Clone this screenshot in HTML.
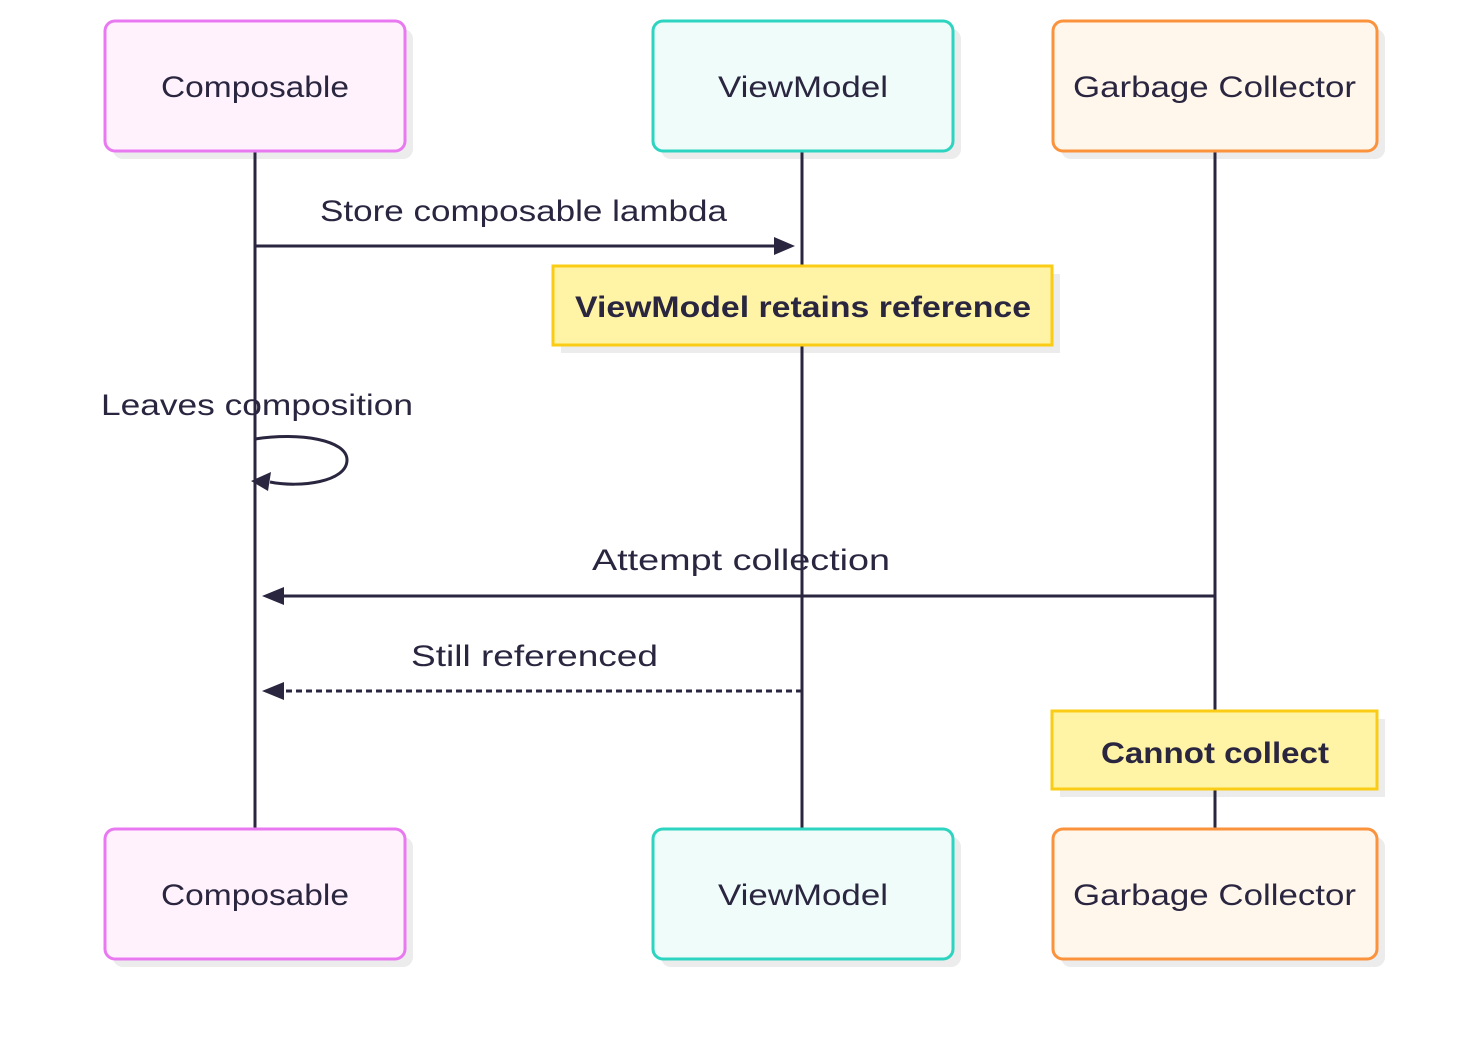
<!DOCTYPE html>
<html><head><meta charset="utf-8"><style>html,body{margin:0;padding:0;background:#fff}svg{display:block}text{font-family:"Liberation Sans",sans-serif;fill:#2a2640;font-size:30px}</style></head><body>
<svg width="1477" height="1042" viewBox="0 0 1477 1042" xmlns="http://www.w3.org/2000/svg">
<g fill="#ececec">
<rect x="113" y="29" width="300" height="130" rx="10"/>
<rect x="661" y="29" width="300" height="130" rx="10"/>
<rect x="1061" y="29" width="324" height="130" rx="10"/>
<rect x="113" y="837" width="300" height="130" rx="10"/>
<rect x="661" y="837" width="300" height="130" rx="10"/>
<rect x="1061" y="837" width="324" height="130" rx="10"/>
<rect x="561" y="274" width="499" height="79"/>
<rect x="1060" y="719" width="325" height="78"/>
</g>
<g stroke="#2a2640" stroke-width="3">
<line x1="255" y1="151" x2="255" y2="829"/>
<line x1="802" y1="151" x2="802" y2="829"/>
<line x1="1215" y1="151" x2="1215" y2="829"/>
</g>
<g stroke-width="3">
<rect x="105" y="21" width="300" height="130" rx="10" fill="#fff2fd" stroke="#e879f0"/>
<rect x="653" y="21" width="300" height="130" rx="10" fill="#effcfa" stroke="#2dd4bf"/>
<rect x="1053" y="21" width="324" height="130" rx="10" fill="#fff6ec" stroke="#fb923c"/>
<rect x="105" y="829" width="300" height="130" rx="10" fill="#fff2fd" stroke="#e879f0"/>
<rect x="653" y="829" width="300" height="130" rx="10" fill="#effcfa" stroke="#2dd4bf"/>
<rect x="1053" y="829" width="324" height="130" rx="10" fill="#fff6ec" stroke="#fb923c"/>
<rect x="553" y="266" width="499" height="79" fill="#fff4a6" stroke="#facc15"/>
<rect x="1052" y="711" width="325" height="78" fill="#fff4a6" stroke="#facc15"/>
</g>
<g fill="none" stroke="#2a2640" stroke-width="3">
<line x1="255" y1="246" x2="780" y2="246"/>
<path d="M255 439 C300 432 347 440 347 460 C347 482 300 488 270 482"/>
<line x1="1215" y1="596" x2="282" y2="596"/>
<line x1="802" y1="691" x2="282" y2="691" stroke-dasharray="6 4"/>
</g>
<g fill="#2a2640">
<polygon points="795,246 774,237 774,255"/>
<polygon points="251,481 271,472 268,491"/>
<polygon points="262,596 284,587 284,605"/>
<polygon points="262,691 284,682 284,700"/>
</g>
<text x="161" y="97" textLength="188" lengthAdjust="spacingAndGlyphs">Composable</text>
<text x="718" y="97" textLength="170" lengthAdjust="spacingAndGlyphs">ViewModel</text>
<text x="1073" y="97" textLength="283" lengthAdjust="spacingAndGlyphs">Garbage Collector</text>
<text x="161" y="905" textLength="188" lengthAdjust="spacingAndGlyphs">Composable</text>
<text x="718" y="905" textLength="170" lengthAdjust="spacingAndGlyphs">ViewModel</text>
<text x="1073" y="905" textLength="283" lengthAdjust="spacingAndGlyphs">Garbage Collector</text>
<text x="320" y="221" textLength="407" lengthAdjust="spacingAndGlyphs">Store composable lambda</text>
<text x="575" y="317" font-weight="bold" textLength="456" lengthAdjust="spacingAndGlyphs">ViewModel retains reference</text>
<text x="101" y="415" textLength="312" lengthAdjust="spacingAndGlyphs">Leaves composition</text>
<text x="592" y="570" textLength="298" lengthAdjust="spacingAndGlyphs">Attempt collection</text>
<text x="411" y="666" textLength="247" lengthAdjust="spacingAndGlyphs">Still referenced</text>
<text x="1101" y="763" font-weight="bold" textLength="228" lengthAdjust="spacingAndGlyphs">Cannot collect</text>
</svg>
</body></html>
